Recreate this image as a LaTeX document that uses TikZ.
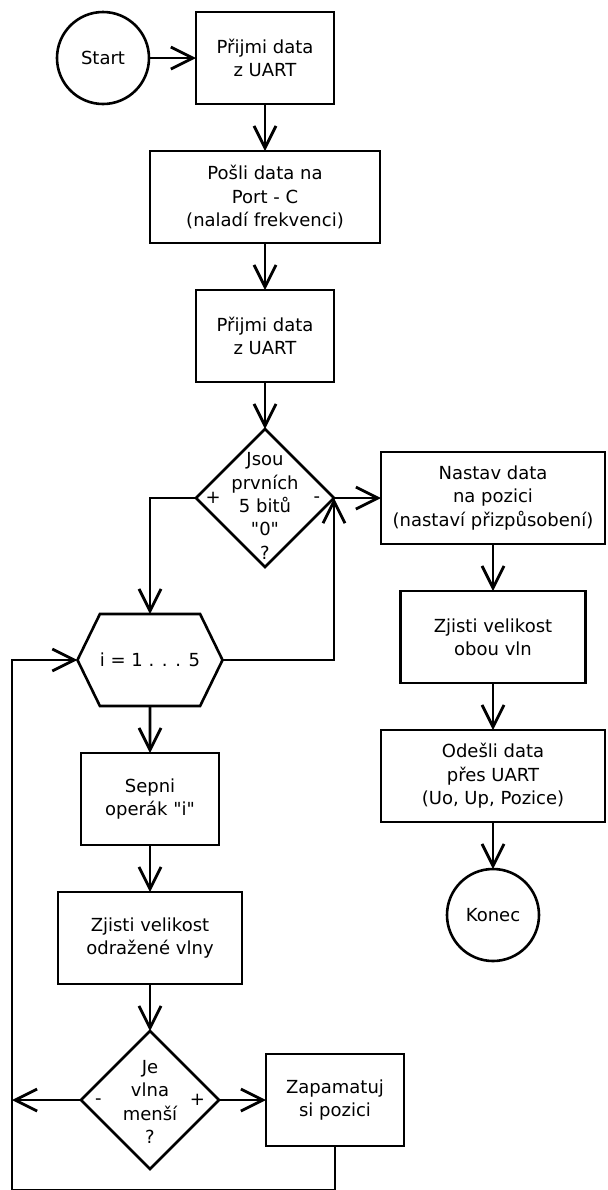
\documentclass[tikz,border=0pt]{standalone}
\usepackage{fontspec}
\setmainfont{DejaVu Sans}
\usetikzlibrary{arrows.meta,positioning,shapes.geometric,shapes.symbols}

\begin{document}
\begin{tikzpicture}[
    node distance=23.5pt and 23.5pt,
    every node/.style={font=\fontsize{9}{11.7}\selectfont,outer sep=0pt},
    box/.style={rectangle,draw,line width=1.3pt,minimum width=69pt,minimum height=46pt,
                inner sep=0pt,align=center},
    wide/.style={box,minimum width=115pt},
    term/.style={circle,draw,line width=1.3pt,minimum size=46pt,inner sep=0pt},
    decision/.style={diamond,draw,line width=1.3pt,minimum width=69pt,minimum height=69pt,
                     inner sep=0pt,aspect=1},
    loopbox/.style={signal,signal to=west and east,signal pointer angle=128,draw,
                    line width=1.3pt,minimum width=69pt,minimum height=46pt,inner sep=0pt},
    arrow/.style={-{Straight Barb[length=11pt,width=11pt]},line width=1.4pt},
    sign/.style={inner sep=1pt}
  ]
    \useasboundingbox (-51.5pt,-566pt) rectangle (252pt,29pt);
    % main column
    \node[term]               (start) {Start};
    \node[box,right=of start] (rx1)   {Přijmi data\\z UART};
    \node[wide,below=of rx1]  (port)  {Pošli data na\\Port - C\\(naladí frekvenci)};
    \node[box,below=of port]  (rx2)   {Přijmi data\\z UART};
    \node[decision,below=of rx2,
          label={[align=center,yshift=-4pt]center:Jsou\\prvních\\5 bitů\\\textquotedbl0\textquotedbl\\?}] (zero) {};
    % right column
    \node[box,right=of zero,minimum width=112pt] (pos)  {Nastav data\\na pozici\\(nastaví přizpůsobení)};
    \node[box,below=of pos,minimum width=92.5pt] (both) {Zjisti velikost\\obou vln};
    \node[box,below=of both,minimum width=112pt] (send) {Odešli data\\přes UART\\(Uo, Up, Pozice)};
    \node[term,below=of send] (stop) {Konec};
    % left column (loop)
    \node[loopbox,below=of zero,xshift=-57.5pt] (loop) {i = 1 . . . 5};
    \node[box,below=of loop]                    (sw)   {Sepni\\operák \textquotedbl i\textquotedbl};
    \node[box,below=of sw,minimum width=92pt]   (refl) {Zjisti velikost\\odražené vlny};
    \node[decision,below=of refl,
          label={[align=center,yshift=-1pt]center:Je\\vlna\\menší\\?}] (less) {};
    \node[box,right=of less]                    (keep) {Zapamatuj\\si pozici};
    \coordinate[left=34.5pt of less.west] (back);
    % signs
    \node[sign,right=3.75pt of zero.west]         (zp) {+};
    \node[sign,left=6pt of zero.east,yshift=-1pt] (zm) {-};
    \node[sign,right=6pt of less.west,yshift=-1pt](lm) {-};
    \node[sign,left=6pt of less.east]             (lp) {+};
    % connectors
    \draw[arrow] (start) -- (rx1);
    \draw[arrow] (rx1)  -- (port);
    \draw[arrow] (port) -- (rx2);
    \draw[arrow] (rx2)  -- (zero);
    \draw[arrow] (zero.east) -- (pos.west);
    \draw[arrow] (zero.west) -| (loop.north);
    \draw[arrow] (loop.east) -| (zero.east);
    \draw[arrow] (pos)  -- (both);
    \draw[arrow] (both) -- (send);
    \draw[arrow] (send) -- (stop);
    \draw[arrow] (loop) -- (sw);
    \draw[arrow] (sw)   -- (refl);
    \draw[arrow] (refl) -- (less);
    \draw[arrow] (less.east) -- (keep.west);
    \draw[arrow] (less.west) -- (back);
    \draw[arrow] (keep.south) -- ++(0,-22pt) -| (back) |- (loop.west);
  \end{tikzpicture}
\end{document}
